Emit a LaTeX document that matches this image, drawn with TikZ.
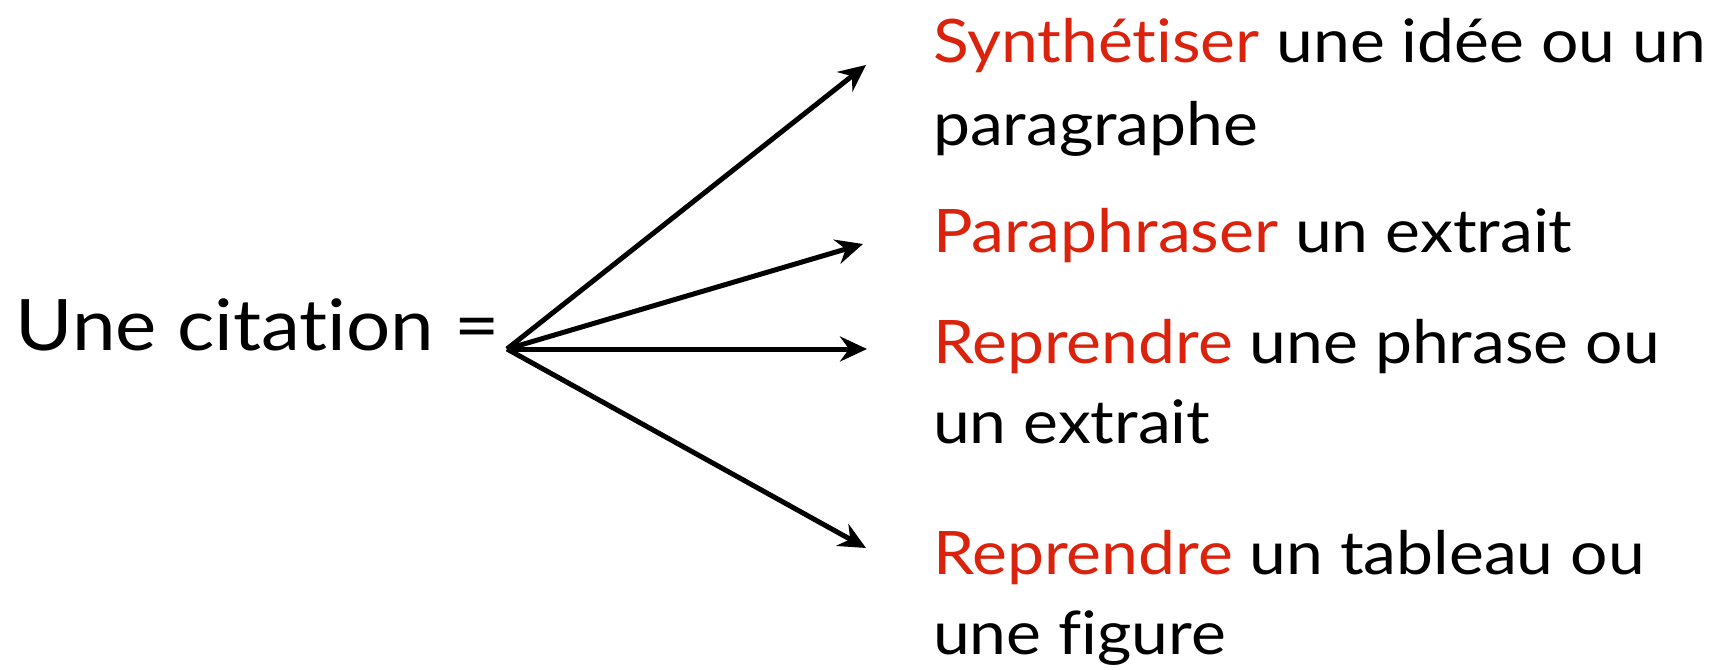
\documentclass[tikz,border=0pt]{standalone}
\usepackage{fontspec}
\setmainfont{Lato}[Ligatures=NoCommon, FakeStretch=1.1]
\usetikzlibrary{arrows.meta}
\definecolor{accent}{RGB}{218,34,12}
\tikzset{
  txt/.style={anchor=base west, inner sep=0pt, outer sep=0pt, font=\fontsize{60}{72}\selectfont},
  big/.style={anchor=base west, inner sep=0pt, outer sep=0pt, font=\fontsize{71}{80}\selectfont},
  arr/.style={line width=5pt, -{Stealth[length=27pt,width=25pt,inset=9pt]}}
}
\newcommand{\hl}[1]{\textcolor{accent}{#1}}
\begin{document}
\begin{tikzpicture}[x=1pt,y=-1pt]
\path[use as bounding box] (0,0) rectangle (1715,669);
\node[big] (src) at (16,350) {Une citation =};
\coordinate (o) at (507,349);
\coordinate (t1) at (866,65);
\coordinate (t2) at (863,244);
\coordinate (t3) at (867,349);
\coordinate (t4) at (866,548);
\node[txt] (a1) at (933,63) {\hl{Synthétiser} une idée ou un};
\node[txt] (a2) at (933,145) {paragraphe};
\node[txt] (b1) at (933,252) {\hl{Paraphraser} un extrait};
\node[txt] (c1) at (933,363) {\hl{Reprendre} une phrase ou};
\node[txt] (c2) at (933,443) {un extrait};
\node[txt] (d1) at (933,574) {\hl{Reprendre} un tableau ou};
\node[txt] (d2) at (933,654) {une figure};
\draw[arr] (o) -- (t1);
\draw[arr] (o) -- (t2);
\draw[arr] (o) -- (t3);
\draw[arr] (o) -- (t4);
\end{tikzpicture}
\end{document}
